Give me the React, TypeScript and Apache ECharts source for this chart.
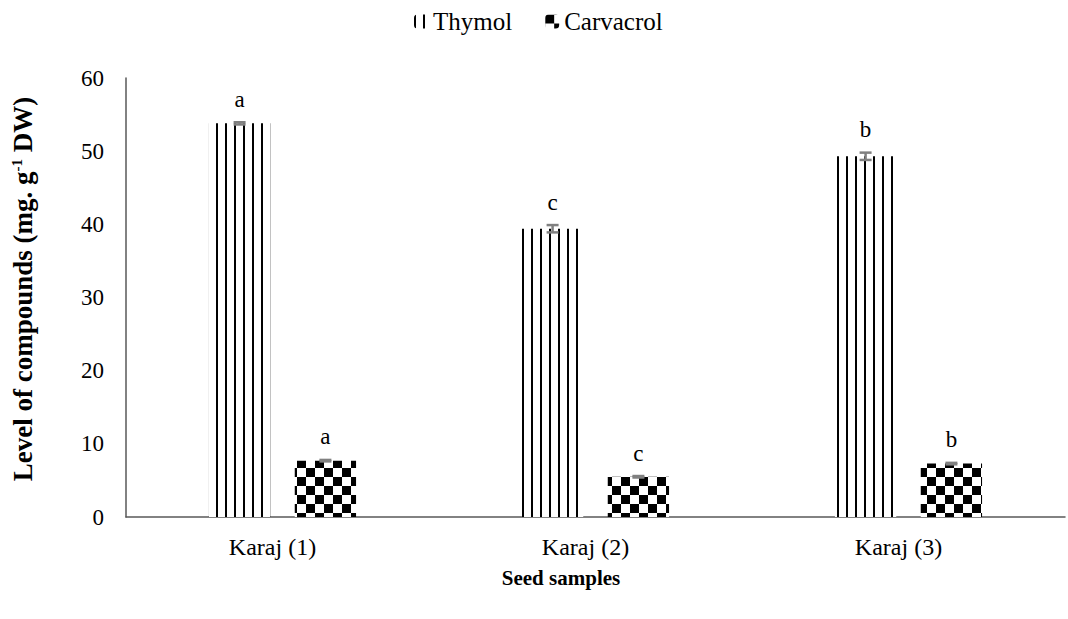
import React, { useEffect, useRef } from 'react';
import * as echarts from 'echarts';

const categories = ['Karaj (1)', 'Karaj (2)', 'Karaj (3)'];
const thymol = [53.8, 39.4, 49.3];
const carvacrol = [7.7, 5.5, 7.3];
const thymolErr = [0.15, 0.5, 0.5];
const carvacrolErr = [0.1, 0.1, 0.1];
const thymolLetters = ['a', 'c', 'b'];
const carvacrolLetters = ['a', 'c', 'b'];
const yMin = 0;
const yMax = 60;
const yInterval = 10;

const FONT = '"Liberation Serif", "Times New Roman", serif';
const BAR_GAP = 0.4;
const CAT_GAP = 0.53;

function stripeCanvas() {
  const c = document.createElement('canvas');
  c.width = 9;
  c.height = 4;
  const ctx = c.getContext('2d')!;
  ctx.fillStyle = '#ffffff';
  ctx.fillRect(0, 0, 9, 4);
  ctx.fillStyle = '#000000';
  ctx.fillRect(0, 0, 2, 4);
  return c;
}

function checkerCanvas() {
  const s = 9;
  const c = document.createElement('canvas');
  c.width = s * 2;
  c.height = s * 2;
  const ctx = c.getContext('2d')!;
  ctx.fillStyle = '#ffffff';
  ctx.fillRect(0, 0, s * 2, s * 2);
  ctx.fillStyle = '#000000';
  ctx.fillRect(0, 0, s, s);
  ctx.fillRect(s, s, s, s);
  return c;
}

function errSeries(name: string, vals: number[], errs: number[], letters: string[], side: number) {
  return {
    type: 'custom',
    name,
    z: 10,
    data: vals.map((v, i) => [i, v, errs[i]]),
    encode: { x: 0, y: 1 },
    renderItem: (params: any, api: any) => {
      const cat = api.value(0);
      const v = api.value(1);
      const e = api.value(2);
      const cw = api.size([1, 0])[0];
      const w = (cw * (1 - CAT_GAP)) / (2 + BAR_GAP);
      const off = side * (w / 2 + (w * BAR_GAP) / 2);
      const x = api.coord([cat, v])[0] + off;
      const yTop = api.coord([cat, v + e])[1];
      const yBot = api.coord([cat, v - e])[1];
      const cap = 6;
      const st = { stroke: '#808080', lineWidth: 2.5 };
      return {
        type: 'group',
        children: [
          { type: 'line', shape: { x1: x, y1: yTop, x2: x, y2: yBot }, style: st },
          { type: 'line', shape: { x1: x - cap, y1: yTop, x2: x + cap, y2: yTop }, style: st },
          { type: 'line', shape: { x1: x - cap, y1: yBot, x2: x + cap, y2: yBot }, style: st },
          {
            type: 'text',
            style: {
              text: letters[params.dataIndex],
              x,
              y: yTop - 23,
              align: 'center',
              verticalAlign: 'middle',
              fontSize: 23,
              fontFamily: FONT,
              fill: '#000',
            },
          },
        ],
      };
    },
  };
}

export default function App() {
  const ref = useRef<HTMLDivElement>(null);
  useEffect(() => {
    document.body.style.margin = '0';
    if (!ref.current) return;
    const chart = echarts.init(ref.current, undefined, { renderer: 'svg' });
    const stripe = { image: stripeCanvas(), repeat: 'repeat', imageWidth: 9, imageHeight: 4 };
    const checker = { image: checkerCanvas(), repeat: 'repeat', imageWidth: 18, imageHeight: 18 };
    chart.setOption({
      animation: false,
      backgroundColor: '#ffffff',
      textStyle: { fontFamily: FONT },
      legend: {
        data: ['Thymol', 'Carvacrol'],
        top: 4,
        left: 409,
        itemWidth: 14,
        itemHeight: 14,
        itemGap: 33,
        textStyle: { fontSize: 25, fontFamily: FONT, color: '#000' },
      },
      grid: { left: 126, right: 3, top: 78, bottom: 102, containLabel: false },
      xAxis: {
        type: 'category',
        data: categories,
        axisLine: { lineStyle: { color: '#595959', width: 1.5 } },
        axisTick: { show: false },
        axisLabel: { fontSize: 24, fontFamily: FONT, color: '#000', margin: 18, padding: [0, 20, 0, 0] },
      },
      yAxis: {
        type: 'value',
        min: yMin,
        max: yMax,
        interval: yInterval,
        splitLine: { show: false },
        axisLine: { show: true, lineStyle: { color: '#595959', width: 1.5 } },
        axisTick: { show: false },
        axisLabel: { fontSize: 23, fontFamily: FONT, color: '#000', margin: 22 },
      },
      graphic: [
        {
          type: 'text',
          x: 561,
          y: 578,
          style: {
            text: 'Seed samples',
            align: 'center',
            verticalAlign: 'middle',
            fontSize: 21,
            fontWeight: 'bold',
            fontFamily: FONT,
            fill: '#000',
          },
        },
        {
          type: 'text',
          x: 23,
          y: 289,
          rotation: Math.PI / 2,
          style: {
            text: 'Level of compounds (mg. g{sup|-1} DW)',
            align: 'center',
            verticalAlign: 'middle',
            fontSize: 27,
            fontWeight: 'bold',
            fontFamily: FONT,
            fill: '#000',
            rich: {
              sup: { fontSize: 15, fontWeight: 'bold', fontFamily: FONT, verticalAlign: 'top', fill: '#000' },
            },
          },
        },
      ],
      series: [
        {
          type: 'bar',
          name: 'Thymol',
          data: thymol,
          barGap: BAR_GAP * 100 + '%',
          barCategoryGap: CAT_GAP * 100 + '%',
          itemStyle: { color: stripe },
        },
        {
          type: 'bar',
          name: 'Carvacrol',
          data: carvacrol,
          barGap: BAR_GAP * 100 + '%',
          barCategoryGap: CAT_GAP * 100 + '%',
          itemStyle: { color: checker },
        },
        errSeries('ThymolErr', thymol, thymolErr, thymolLetters, -1),
        errSeries('CarvacrolErr', carvacrol, carvacrolErr, carvacrolLetters, 1),
      ],
    });
    return () => chart.dispose();
  }, []);
  return <div ref={ref} style={{ width: 1068, height: 619 }} />;
}
